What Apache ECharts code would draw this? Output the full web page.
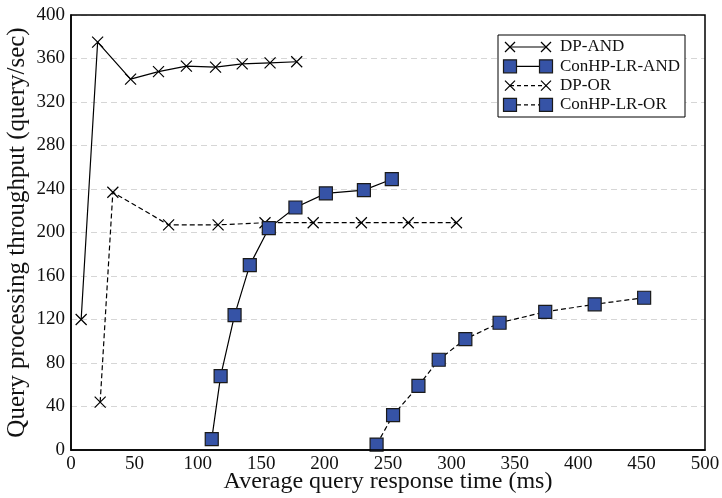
<!DOCTYPE html>
<html><head><meta charset="utf-8">
<script src="https://cdn.jsdelivr.net/npm/echarts@6/dist/echarts.min.js"></script>
<style>html,body{margin:0;padding:0;background:#fff}#c{width:722px;height:498px}</style>
</head><body><div id="c"></div>
<script>
var seriesNames = ['DP-AND', 'ConHP-LR-AND', 'DP-OR', 'ConHP-LR-OR'];
var dpAnd = [[8,120],[21,375],[47,341],[69,348],[91,353],[114,352],[135,355],[157,356],[178,357]];
var conAnd = [[111,10],[118,68],[129,124],[141,170],[156,204],[177,223],[201,236],[231,239],[253,249]];
var dpOr = [[23,44],[33,237],[77,207],[116,207],[153,209],[191,209],[229,209],[266,209],[304,209]];
var conOr = [[241,5],[254,32],[274,59],[290,83],[311,102],[338,117],[374,127],[413,134],[452,140]];
var xTicks = [0,50,100,150,200,250,300,350,400,450,500];
var yTicks = [0,40,80,120,160,200,240,280,320,360,400];

var FONT = 'Liberation Serif';
var CROSS = 'path://M0,0L10,10M10,0L0,10';
var BLUE = '#3653a6';

function crossSeries(name, data, dashed) {
  return {
    name: name, type: 'line', data: data, symbol: CROSS, symbolSize: 11,
    showAllSymbol: true,
    lineStyle: {color: '#000', width: 1.2, type: dashed ? [5, 3] : 'solid'},
    itemStyle: {color: 'rgba(0,0,0,0)', borderColor: '#000', borderWidth: 1.2},
    emphasis: {disabled: true}, animation: false, z: 3
  };
}
function squareSeries(name, data, dashed) {
  return {
    name: name, type: 'line', data: data, symbol: 'rect', symbolSize: 13,
    showAllSymbol: true,
    lineStyle: {color: '#000', width: 1.2, type: dashed ? [5, 3] : 'solid'},
    itemStyle: {color: BLUE, borderColor: '#1a1a1a', borderWidth: 1.2},
    emphasis: {disabled: true}, animation: false, z: 4
  };
}

// legend drawn as graphic (icon: symbol-line-symbol)
var lgX = 498, lgY = 35, lgW = 187, lgH = 82, rowH = 19.3;
var legendGraphics = [{
  type: 'rect', shape: {x: lgX, y: lgY, width: lgW, height: lgH},
  style: {fill: '#fff', stroke: '#000', lineWidth: 1}, z: 100
}];
seriesNames.forEach(function (nm, i) {
  var cy = lgY + 12 + i * rowH;
  var x1 = lgX + 12, x2 = lgX + 48;
  var dashed = i >= 2;
  var isSq = (i % 2) === 1;
  legendGraphics.push({
    type: 'line', shape: {x1: x1, y1: cy, x2: x2, y2: cy},
    style: {stroke: '#000', lineWidth: 1.2, lineDash: dashed ? [4, 3] : null}, z: 101
  });
  [x1, x2].forEach(function (px) {
    if (isSq) {
      legendGraphics.push({
        type: 'rect', shape: {x: px - 6.5, y: cy - 6.5, width: 13, height: 13},
        style: {fill: BLUE, stroke: '#1a1a1a', lineWidth: 1.2}, z: 102
      });
    } else {
      legendGraphics.push({
        type: 'polyline', shape: {points: [[px - 5, cy - 5], [px + 5, cy + 5]]},
        style: {stroke: '#000', lineWidth: 1.2, fill: null}, z: 102
      });
      legendGraphics.push({
        type: 'polyline', shape: {points: [[px + 5, cy - 5], [px - 5, cy + 5]]},
        style: {stroke: '#000', lineWidth: 1.2, fill: null}, z: 102
      });
    }
  });
  legendGraphics.push({
    type: 'text', x: lgX + 62, y: cy,
    style: {text: nm, font: '17px "' + FONT + '"', fill: '#111', verticalAlign: 'middle', align: 'left'}, z: 102
  });
});

var chart = echarts.init(document.getElementById('c'), null, {renderer: 'canvas'});
chart.setOption({
  animation: false,
  backgroundColor: '#fff',
  grid: {left: 71, right: 17, top: 15, bottom: 48, show: true, borderColor: '#000', borderWidth: 1.5,
         backgroundColor: 'transparent', z: 5, containLabel: false, outerBoundsMode: 'none'},
  xAxis: {
    type: 'value', min: xTicks[0], max: xTicks[xTicks.length - 1], interval: 50,
    name: 'Average query response time (ms)', nameLocation: 'middle', nameGap: 20, nameMoveOverlap: false,
    nameTextStyle: {fontFamily: FONT, fontSize: 24, color: '#111'},
    axisLine: {lineStyle: {color: '#000', width: 1.5}},
    axisTick: {show: false},
    axisLabel: {fontFamily: FONT, fontSize: 19, color: '#111', margin: 5},
    splitLine: {show: false}
  },
  yAxis: {
    type: 'value', min: yTicks[0], max: yTicks[yTicks.length - 1], interval: 40,
    name: 'Query processing throughput (query/sec)', nameLocation: 'middle', nameGap: 41, nameMoveOverlap: false,
    nameTextStyle: {fontFamily: FONT, fontSize: 25, color: '#111'},
    axisLine: {lineStyle: {color: '#000', width: 1.5}},
    axisTick: {show: false},
    axisLabel: {fontFamily: FONT, fontSize: 19, color: '#111', margin: 6},
    splitLine: {show: true, lineStyle: {color: '#d6d6d6', type: [6, 4], width: 1.2}}
  },
  series: [
    crossSeries(seriesNames[0], dpAnd, false),
    squareSeries(seriesNames[1], conAnd, false),
    crossSeries(seriesNames[2], dpOr, true),
    squareSeries(seriesNames[3], conOr, true)
  ],
  graphic: legendGraphics
});
</script></body></html>
